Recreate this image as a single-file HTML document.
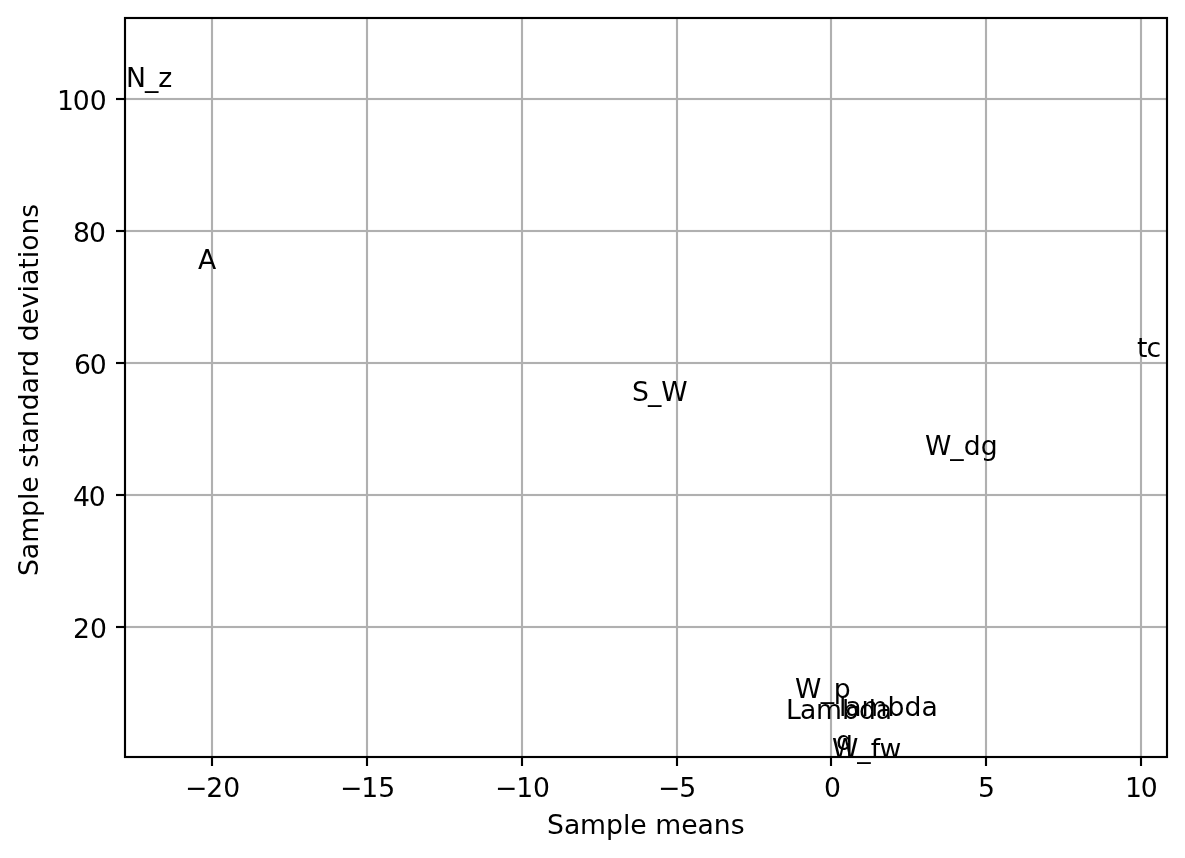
<!DOCTYPE html>
<html><head><meta charset="utf-8"><title>Sample means vs standard deviations</title>
<style>
html,body{margin:0;padding:0;background:#fff;}
svg{display:block;}
text{font-family:"DejaVu Sans","Liberation Sans",sans-serif;font-size:26.667px;fill:#000;}
</style></head>
<body>
<svg width="1185" height="858" viewBox="0 0 1185 858">
<rect width="1185" height="858" fill="#fff"/>
<g id="grid" fill="#b0b0b0">
<rect x="210.9333" y="18" width="2.1333" height="739"/>
<rect x="365.9334" y="18" width="2.1333" height="739"/>
<rect x="520.9334" y="18" width="2.1333" height="739"/>
<rect x="675.9334" y="18" width="2.1333" height="739"/>
<rect x="829.9334" y="18" width="2.1333" height="739"/>
<rect x="984.9334" y="18" width="2.1333" height="739"/>
<rect x="1139.9334" y="18" width="2.1333" height="739"/>
<rect x="125" y="97.9334" width="1042" height="2.1333"/>
<rect x="125" y="229.9333" width="1042" height="2.1333"/>
<rect x="125" y="361.9334" width="1042" height="2.1333"/>
<rect x="125" y="493.9334" width="1042" height="2.1333"/>
<rect x="125" y="625.9334" width="1042" height="2.1333"/>
</g>
<g id="ticks" fill="#000">
<rect x="210.9333" y="757" width="2.1333" height="9"/>
<rect x="365.9334" y="757" width="2.1333" height="9"/>
<rect x="520.9334" y="757" width="2.1333" height="9"/>
<rect x="675.9334" y="757" width="2.1333" height="9"/>
<rect x="829.9334" y="757" width="2.1333" height="9"/>
<rect x="984.9334" y="757" width="2.1333" height="9"/>
<rect x="1139.9334" y="757" width="2.1333" height="9"/>
<rect x="116" y="97.9334" width="9" height="2.1333"/>
<rect x="116" y="229.9333" width="9" height="2.1333"/>
<rect x="116" y="361.9334" width="9" height="2.1333"/>
<rect x="116" y="493.9334" width="9" height="2.1333"/>
<rect x="116" y="625.9334" width="9" height="2.1333"/>
</g>
<g id="spines">
<rect x="125" y="18" width="1042" height="739" fill="none" stroke="#000" stroke-width="2.1333"/>
</g>
<g id="labels">
<text transform="translate(125.92,86.58)" text-anchor="start" x="0.00 19.06 32.27">N_z</text>
<text transform="translate(197.88,268.50)" text-anchor="start" x="0.00">A</text>
<text transform="translate(631.00,400.50)" text-anchor="start" x="0.88 16.91 30.23">S_W</text>
<text transform="translate(924.38,454.50)" text-anchor="start" x="0.50 25.84 39.30 56.34">W_dg</text>
<text transform="translate(1136.67,356.57)" text-anchor="start" x="0.25 9.81">tc</text>
<text transform="translate(794.95,698.00)" text-anchor="start" x="0.00 25.84 38.80" y="-0.50 -0.50 -0.50">W_p</text>
<text transform="translate(784.95,719.00)" text-anchor="start" x="1.00 15.09 31.05 57.02 73.94 90.73" y="-0.50 -0.50 -0.50 -0.50 -0.50 -0.50">Lambda</text>
<text transform="translate(837.85,715.50)" text-anchor="start" x="1.12 7.39 23.61 49.58 66.62 83.55">lambda</text>
<text transform="translate(835.88,750.50)" text-anchor="start" x="0.00" y="-1.00">q</text>
<text transform="translate(831.75,757.60)" text-anchor="start" x="0.25 25.47 38.92 47.72">W_fw</text>
<text transform="translate(212.00,796.50)" text-anchor="start" x="-27.13 -5.80 11.15">−20</text>
<text transform="translate(367.00,796.50)" text-anchor="start" x="-27.13 -5.80 11.15">−15</text>
<text transform="translate(522.00,796.50)" text-anchor="start" x="-27.13 -5.80 10.90">−10</text>
<text transform="translate(676.62,796.50)" text-anchor="start" x="-18.65 2.55">−5</text>
<text transform="translate(832.38,796.50)" text-anchor="start" x="-8.48">0</text>
<text transform="translate(986.38,796.50)" text-anchor="start" x="-8.48">5</text>
<text transform="translate(1140.88,796.50)" text-anchor="start" x="-15.96 -0.26">10</text>
<text transform="translate(106.80,109.50)" text-anchor="start" x="-49.89 -34.06 -17.11">100</text>
<text transform="translate(106.30,241.50)" text-anchor="start" x="-33.42 -17.34">80</text>
<text transform="translate(107.05,373.50)" text-anchor="start" x="-33.17 -17.34">60</text>
<text transform="translate(106.05,505.50)" text-anchor="start" x="-33.17 -17.34">40</text>
<text transform="translate(106.92,637.50)" text-anchor="start" x="-33.92 -16.97">20</text>
<text transform="translate(645.75,833.50)" text-anchor="start" x="-98.83 -81.80 -65.83 -39.86 -22.81 -15.53 -0.89 9.45 35.42 51.70 67.91 84.94">Sample means</text>
<text transform="translate(37.58,389.88) rotate(-90)" text-anchor="start" x="-186.21 -169.43 -152.96 -127.24 -110.20 -102.91 -88.40 -77.93 -63.91 -53.71 -37.49 -20.48 -3.68 12.52 23.02 38.30 48.54 65.34 81.60 97.38 104.79 121.12 131.57 139.10 155.29 172.05">Sample standard deviations</text>
</g>
</svg>
</body></html>
